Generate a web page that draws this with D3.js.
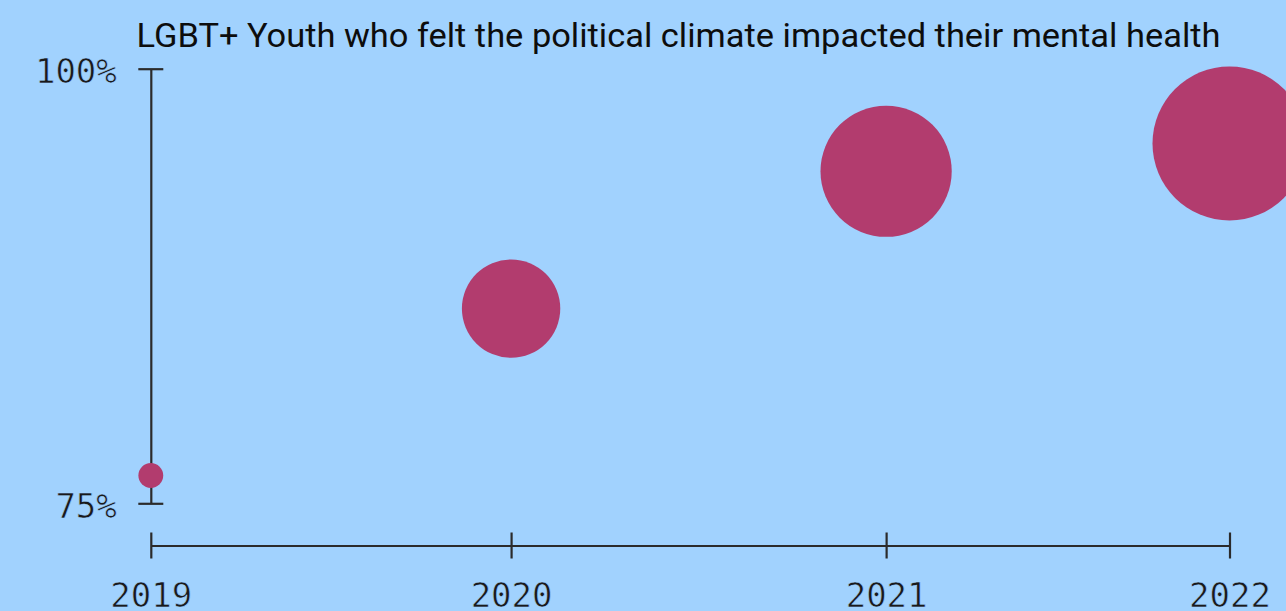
<!DOCTYPE html>
<html>
<head>
<meta charset="utf-8">
<script src="https://cdn.jsdelivr.net/npm/d3@7"></script>
<style>
  html, body { margin: 0; padding: 0; background: #a1d2fe; }
  svg { display: block; }
</style>
</head>
<body>
<svg id="chart" width="1286" height="611"></svg>
<script>
// ---- data ----
const title = "LGBT+ Youth who felt the political climate impacted their mental health";
const years = ["2019", "2020", "2021", "2022"];
const surveyTime = [2019, 2020.002, 2021.045, 2022];      // position of each survey on the time axis
const percentValues = [76.6, 86.2, 94.1, 95.7];            // % who felt impacted
const bubbleSize = [2.6, 40.8, 72.6, 100];                 // relative bubble area
const yTickValues = [75, 100];
const yTickLabels = ["75%", "100%"];

// ---- layout ----
const svg = d3.select("#chart");
const W = 1286, H = 611;
const bg = "#a1d2fe";
const axisColor = "#2b2b2b";
const markColor = "#b23c6e";

svg.append("rect").attr("width", W).attr("height", H).attr("fill", bg);

const x = d3.scaleLinear().domain([2019, 2022]).range([150.8, 1229.5]);
const y = d3.scaleLinear().domain([75, 100]).range([503.3, 68.7]);
const r = d3.scaleSqrt().domain([0, 100]).range([0, 77]);

// title
svg.append("text")
  .attr("x", 136.5).attr("y", 47.3)
  .attr("font-family", "Roboto, 'Noto Sans', sans-serif")
  .attr("font-size", 34)
  .attr("fill", "#0d0d0d")
  .attr("textLength", 1084)
  .attr("lengthAdjust", "spacingAndGlyphs")
  .text(title);

const monoStyle = sel => sel
  .attr("font-family", "'DejaVu Sans Mono', 'Liberation Mono', monospace")
  .attr("font-size", 34)
  .attr("fill", "#1a1a1a")
  .attr("stroke", bg)
  .attr("stroke-width", 0.6);

// y axis
const yAxis = d3.axisLeft(y)
  .tickValues(yTickValues)
  .tickFormat((d, i) => yTickLabels[i])
  .tickSizeOuter(0);
const gy = svg.append("g").attr("transform", `translate(${x(2019)},0)`).call(yAxis);
gy.select(".domain").attr("stroke", axisColor).attr("stroke-width", 2.2);
gy.selectAll(".tick line").attr("x1", -12.5).attr("x2", 12.5)
  .attr("stroke", axisColor).attr("stroke-width", 2.2);
gy.selectAll(".tick text")
  .attr("x", -34).attr("dy", null).attr("y", 14)
  .call(monoStyle);

// x axis
const xAxis = d3.axisBottom(x)
  .tickValues(surveyTime)
  .tickFormat((d, i) => years[i])
  .tickSizeOuter(0);
const gx = svg.append("g").attr("transform", "translate(0,545.5)").call(xAxis);
gx.select(".domain").attr("stroke", axisColor).attr("stroke-width", 2.2);
gx.selectAll(".tick line").attr("y1", -13).attr("y2", 13)
  .attr("stroke", axisColor).attr("stroke-width", 2.2);
gx.selectAll(".tick text")
  .attr("dy", null).attr("y", 61)
  .call(monoStyle);

// bubbles
const data = years.map((yr, i) => ({ t: surveyTime[i], v: percentValues[i], s: bubbleSize[i] }));
svg.append("g").selectAll("circle").data(data).join("circle")
  .attr("cx", d => x(d.t))
  .attr("cy", d => y(d.v))
  .attr("r", d => r(d.s))
  .attr("fill", markColor);
</script>
</body>
</html>
